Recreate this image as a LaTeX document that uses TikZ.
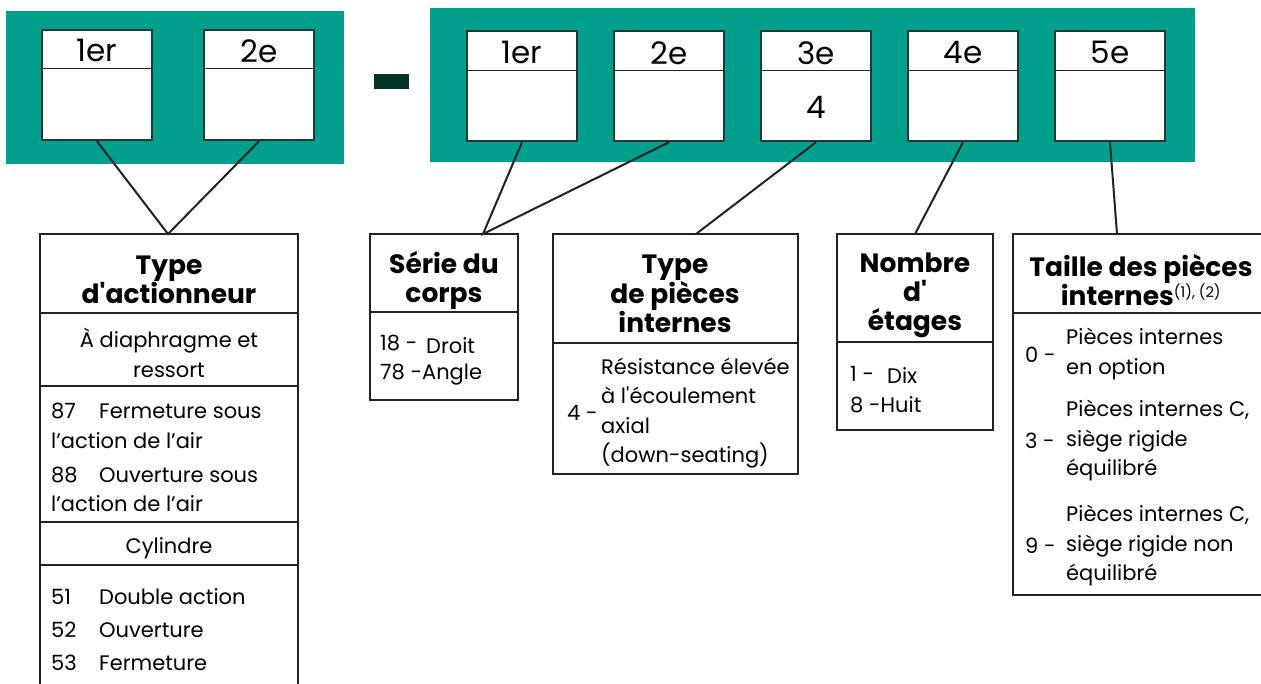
\documentclass[tikz,border=0pt]{standalone}
\usepackage{fontspec}
\newfontfamily\popfont{Poppins}
\definecolor{codegreen}{HTML}{00A08C}
\definecolor{dashgreen}{HTML}{00332A}
\definecolor{slotedge}{HTML}{1C3A32}
\definecolor{ink}{HTML}{222222}

\begin{document}
\begin{tikzpicture}[x=1pt, y=-1pt]

  \tikzstyle{slot}  = [draw=slotedge, line width=2.5pt, fill=white, minimum width=110pt, minimum height=110pt, inner sep=0]
  \tikzstyle{slbl}  = [font=\popfont\fontsize{31}{31}\selectfont, inner sep=0]
  \tikzstyle{tbl}   = [draw=ink, line width=2.5pt]
  \tikzstyle{sep}   = [ink, line width=1.2pt]
  \tikzstyle{link}  = [ink, line width=2pt]
  \tikzstyle{ttl}   = [font=\popfont\bfseries\fontsize{26.5}{29}\selectfont, align=center, inner sep=0]
  \tikzstyle{txt}   = [font=\popfont\fontsize{21}{29.5}\selectfont, inner sep=0]
  \tikzstyle{lft}   = [txt, anchor=west, align=left]
  \tikzstyle{ctr}   = [txt, align=center]

  \useasboundingbox (0,0) rectangle (1261,684);
  \clip (0,0) rectangle (1261,684);

  % ---- CODE FIELDS ----
  \fill[codegreen] (6,11) rectangle (344,164);
  \fill[codegreen] (430,8) rectangle (1195,162);
  \fill[dashgreen] (374,74) rectangle (409,89);

  \foreach \n/\x/\lbl in {l1/97/1er, l2/259/2e}{
    \node[slot] (\n) at (\x,85) {};
    \draw[sep] ([yshift=-40pt]\n.north west) -- ([yshift=-40pt]\n.north east);
    \node[slbl] (\n-lbl) at ([yshift=-22pt]\n.north) {\lbl};
  }
  \foreach \n/\x/\lbl in {r1/522/1er, r2/669/2e, r3/816/3e, r4/963/4e, r5/1110/5e}{
    \node[slot] (\n) at (\x,86) {};
    \draw[sep] ([yshift=-41pt]\n.north west) -- ([yshift=-41pt]\n.north east);
    \node[slbl] (\n-lbl) at ([yshift=-23pt]\n.north) {\lbl};
  }
  \node[slbl] (r3-val) at (816,107) {4};

  % ---- TABLES ----
  % Type d'actionneur
  \draw[tbl] (40,234) rectangle (298,720);
  \foreach \y in {313,386,522,565}{
    \draw[sep] (40,\y) -- (298,\y);
  }
  \node[ttl] (act-ttl) at (169,280) {Type\\d'actionneur};
  \node[ctr] (act-a) at (169,353) {À diaphragme et\\ressort};
  \node[lft] (act-87) at (51,411) {87};
  \node[lft] (act-87t) at (99,411) {Fermeture sous};
  \node[lft] (act-87b) at (51,441) {l’action de l’air};
  \node[lft] (act-88) at (51,475) {88};
  \node[lft] (act-88t) at (99,475) {Ouverture sous};
  \node[lft] (act-88b) at (51,504) {l’action de l’air};
  \node[ctr] (act-b) at (169,548) {Cylindre};
  \node[lft] (act-51) at (51,597) {51};
  \node[lft] (act-51t) at (99,597) {Double action};
  \node[lft] (act-52) at (51,630) {52};
  \node[lft] (act-52t) at (99,630) {Ouverture};
  \node[lft] (act-53) at (51,663) {53};
  \node[lft] (act-53t) at (99,663) {Fermeture};
  \coordinate (act-top) at (168,234);

  % Serie du corps
  \draw[tbl] (370,234) rectangle (518,400);
  \draw[sep] (370,312) -- (518,312);
  \node[ttl] (ser-ttl) at (444,280) {Série du\\corps};
  \node[lft] (ser-18) at (380,343) {18 -};
  \node[lft] (ser-18t) at (426,346) {Droit};
  \node[lft] (ser-78) at (380,375) {78 -Angle};
  \coordinate (ser-top) at (483,234);

  % Type de pieces internes
  \draw[tbl] (553,234) rectangle (798,474);
  \draw[sep] (553,343) -- (798,343);
  \node[ttl] (pie-ttl) at (675,294) {Type\\de pièces\\internes};
  \node[lft] (pie-4) at (567,413) {4 -};
  \node[lft] (pie-4t) at (601,413) {Résistance élevée\\à l'écoulement\\axial\\(down-seating)};
  \coordinate (pie-top) at (696,234);

  % Nombre d'etages
  \draw[tbl] (837,234) rectangle (993,430);
  \draw[sep] (837,342) -- (993,342);
  \node[ttl] (eta-ttl) at (915,295) {Nombre\\d'\\étages};
  \node[lft] (eta-1) at (850,374) {1 -};
  \node[lft] (eta-1t) at (887,376) {Dix};
  \node[lft] (eta-8) at (850,405) {8 -Huit};
  \coordinate (eta-top) at (915,234);

  % Taille des pieces internes
  \draw[tbl] (1013,234) rectangle (1290,595);
  \draw[sep] (1013,313) -- (1290,313);
  \node[ttl] (tai-ttl) at (1141,280) {Taille des pièces\\internes{\mdseries\fontsize{21}{21}\selectfont\textsuperscript{(1), (2)}}};
  \node[lft] (tai-0) at (1025,355) {0 -};
  \node[lft] (tai-0t) at (1066,354) {Pièces internes\\en option};
  \node[lft] (tai-3) at (1025,441) {3 -};
  \node[lft] (tai-3t) at (1066,441) {Pièces internes C,\\siège rigide\\équilibré};
  \node[lft] (tai-9) at (1025,546) {9 -};
  \node[lft] (tai-9t) at (1066,546) {Pièces internes C,\\siège rigide non\\équilibré};
  \coordinate (tai-top) at (1117,234);

  % ---- LINKS ----
  \draw[link] (l1.south) -- (act-top) -- (l2.south);
  \draw[link] (r1.south) -- (ser-top) -- (r2.south);
  \draw[link] (r3.south) -- (pie-top);
  \draw[link] (r4.south) -- (eta-top);
  \draw[link] (r5.south) -- (tai-top);

\end{tikzpicture}
\end{document}
